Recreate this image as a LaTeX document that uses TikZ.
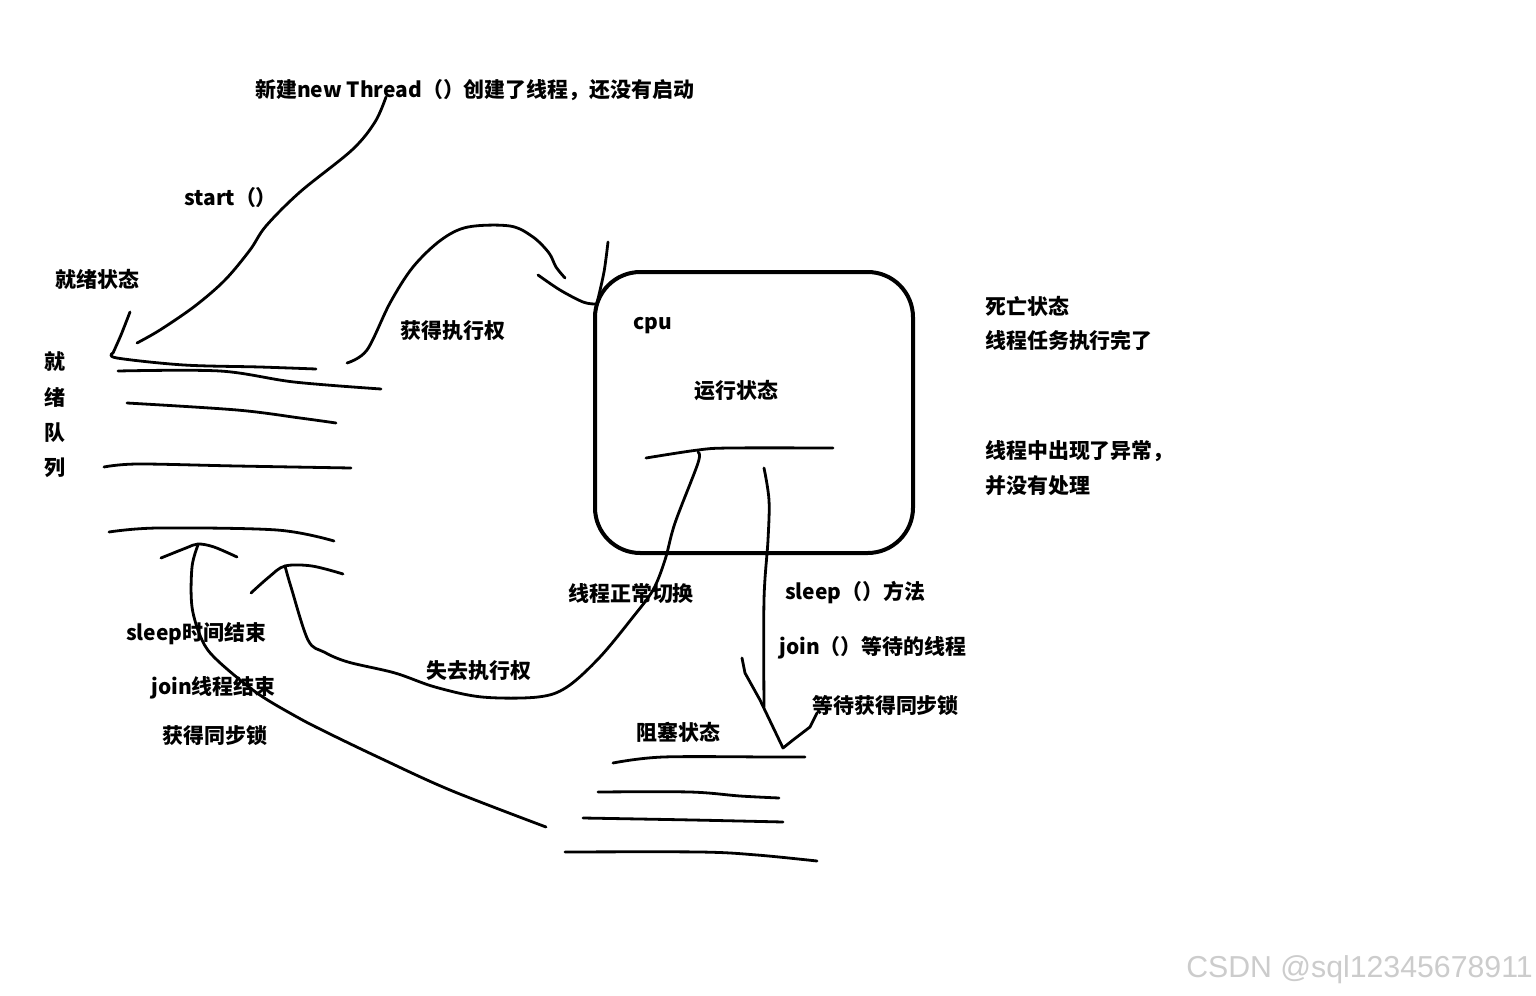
\documentclass[tikz,border=0pt]{standalone}
\usepackage{fontspec}
\setmainfont{Noto Sans CJK SC}
\newfontfamily\wmfont{Liberation Sans}
\begin{document}
\begin{tikzpicture}[x=0.75pt,y=-0.75pt,
  lbl/.style={anchor=west,inner sep=0pt,font=\fontsize{15.7}{18}\selectfont\bfseries},
  ink/.style={line width=2.1pt,line cap=round,line join=round},
  hand/.style={ink,smooth,tension=0.55}]
\useasboundingbox[fill=white] (0,0) rectangle (1536,996);

% texts
\node[lbl] (new) at (255,90) {新建new Thread（）创建了线程，还没有启动};
\node[lbl] (start) at (184,198) {start（）};
\node[lbl] (ready) at (55,279) {就绪状态};
\node[lbl] (q1) at (44,362) {就};
\node[lbl] (q2) at (44,397) {绪};
\node[lbl] (q3) at (44,433) {队};
\node[lbl] (q4) at (44,468) {列};
\node[lbl] (get) at (400,331) {获得执行权};
\node[lbl] (cpu) at (633,326) {cpu};
\node[lbl] (runs) at (694,391) {运行状态};
\node[lbl] (dead) at (985,306) {死亡状态};
\node[lbl] (dead1) at (985,341) {线程任务执行完了};
\node[lbl] (dead2) at (985,451) {线程中出现了异常，};
\node[lbl] (dead3) at (985,486) {并没有处理};
\node[lbl] (sw) at (568,594) {线程正常切换};
\node[lbl] (sl) at (785,593) {sleep（）方法};
\node[lbl] (jn) at (779,648) {join（）等待的线程};
\node[lbl] (lk) at (812,705) {等待获得同步锁};
\node[lbl] (blk) at (636,732) {阻塞状态};
\node[lbl] (se) at (126,634) {sleep时间结束};
\node[lbl] (je) at (151,688) {join线程结束};
\node[lbl] (gl) at (162,736) {获得同步锁};
\node[lbl] (lose) at (426,671) {失去执行权};
\node[anchor=west,inner sep=0pt,text=black!20,font=\wmfont\fontsize{22.7}{26}\selectfont] (wm) at (1186,970) {CSDN @sql12345678911};

% running-state box
\draw[line width=3pt,rounded corners=34pt] (595,272) rectangle (913,553);

% start() curve
\draw[hand] plot coordinates {(386,97) (375,122) (352,150) (300,192) (266,226) (250,250) (225,280) (195,306) (160,330) (137,343)};
% arrow into ready queue + first queue line
\draw[ink] plot[smooth,tension=0.4] coordinates {(130,312) (121,335) (113,353)};
\draw[hand] plot coordinates {(113,353) (117,358) (184,365) (260,367) (316,369)};
% ready queue lines
\draw[hand] plot coordinates {(118,371) (220,371) (294,382) (381,389)};
\draw[hand] plot coordinates {(127,403) (237,410) (300,418) (336,423)};
\draw[hand] plot coordinates {(104,467) (138,464) (237,466) (351,468)};
\draw[hand] plot coordinates {(109,532) (158,528) (277,530) (334,541)};

% 获得执行权 arrow
\draw[hand] plot coordinates {(347,363) (367,350) (390,303) (413,267) (441,240) (468,227) (510,226) (533,237) (549,253) (556,267) (565,278)};
\draw[hand] plot coordinates {(538,275) (560,290) (583,302) (595,304)};
\draw[hand] plot coordinates {(608,242) (604,272) (597,303)};

% inside box horizontal line
\draw[hand] plot coordinates {(646,458) (698,450) (730,448) (833,448)};
% 线程正常切换 / 失去执行权 curve
\draw[hand] plot coordinates {(698,452) (698,463) (675,523) (665,560) (653,590) (633,617) (600,657) (567,687) (538,697) (482,697) (435,687) (395,673) (348,662) (324,652) (308,640) (291,587) (285,566)};
\draw[hand] plot coordinates {(251,593) (269,577) (285,566) (312,566) (343,574)};

% sleep/join end curve
\draw[hand] plot coordinates {(546,827) (450,790) (380,758) (328,733) (297,717) (257,693) (217,660) (202,640) (192,607) (192,567) (198,545)};
\draw[hand] plot coordinates {(161,558) (186,548) (198,544) (214,547) (237,557)};

% running -> blocked
\draw[hand] plot coordinates {(764,468) (769,500) (768,540) (764,600) (764,707)};
\draw[ink] (742,658) -- (745,673) -- (760,700) -- (783,748) -- (793,740) -- (810,727) -- (817,713);

% blocked queue lines
\draw[hand] plot coordinates {(613,763) (663,757) (773,757) (805,757)};
\draw[hand] plot coordinates {(598,792) (690,792) (740,796) (779,798)};
\draw[hand] plot coordinates {(583,818) (693,820) (783,822)};
\draw[hand] plot coordinates {(565,852) (700,852) (757,855) (817,861)};
\end{tikzpicture}
\end{document}
